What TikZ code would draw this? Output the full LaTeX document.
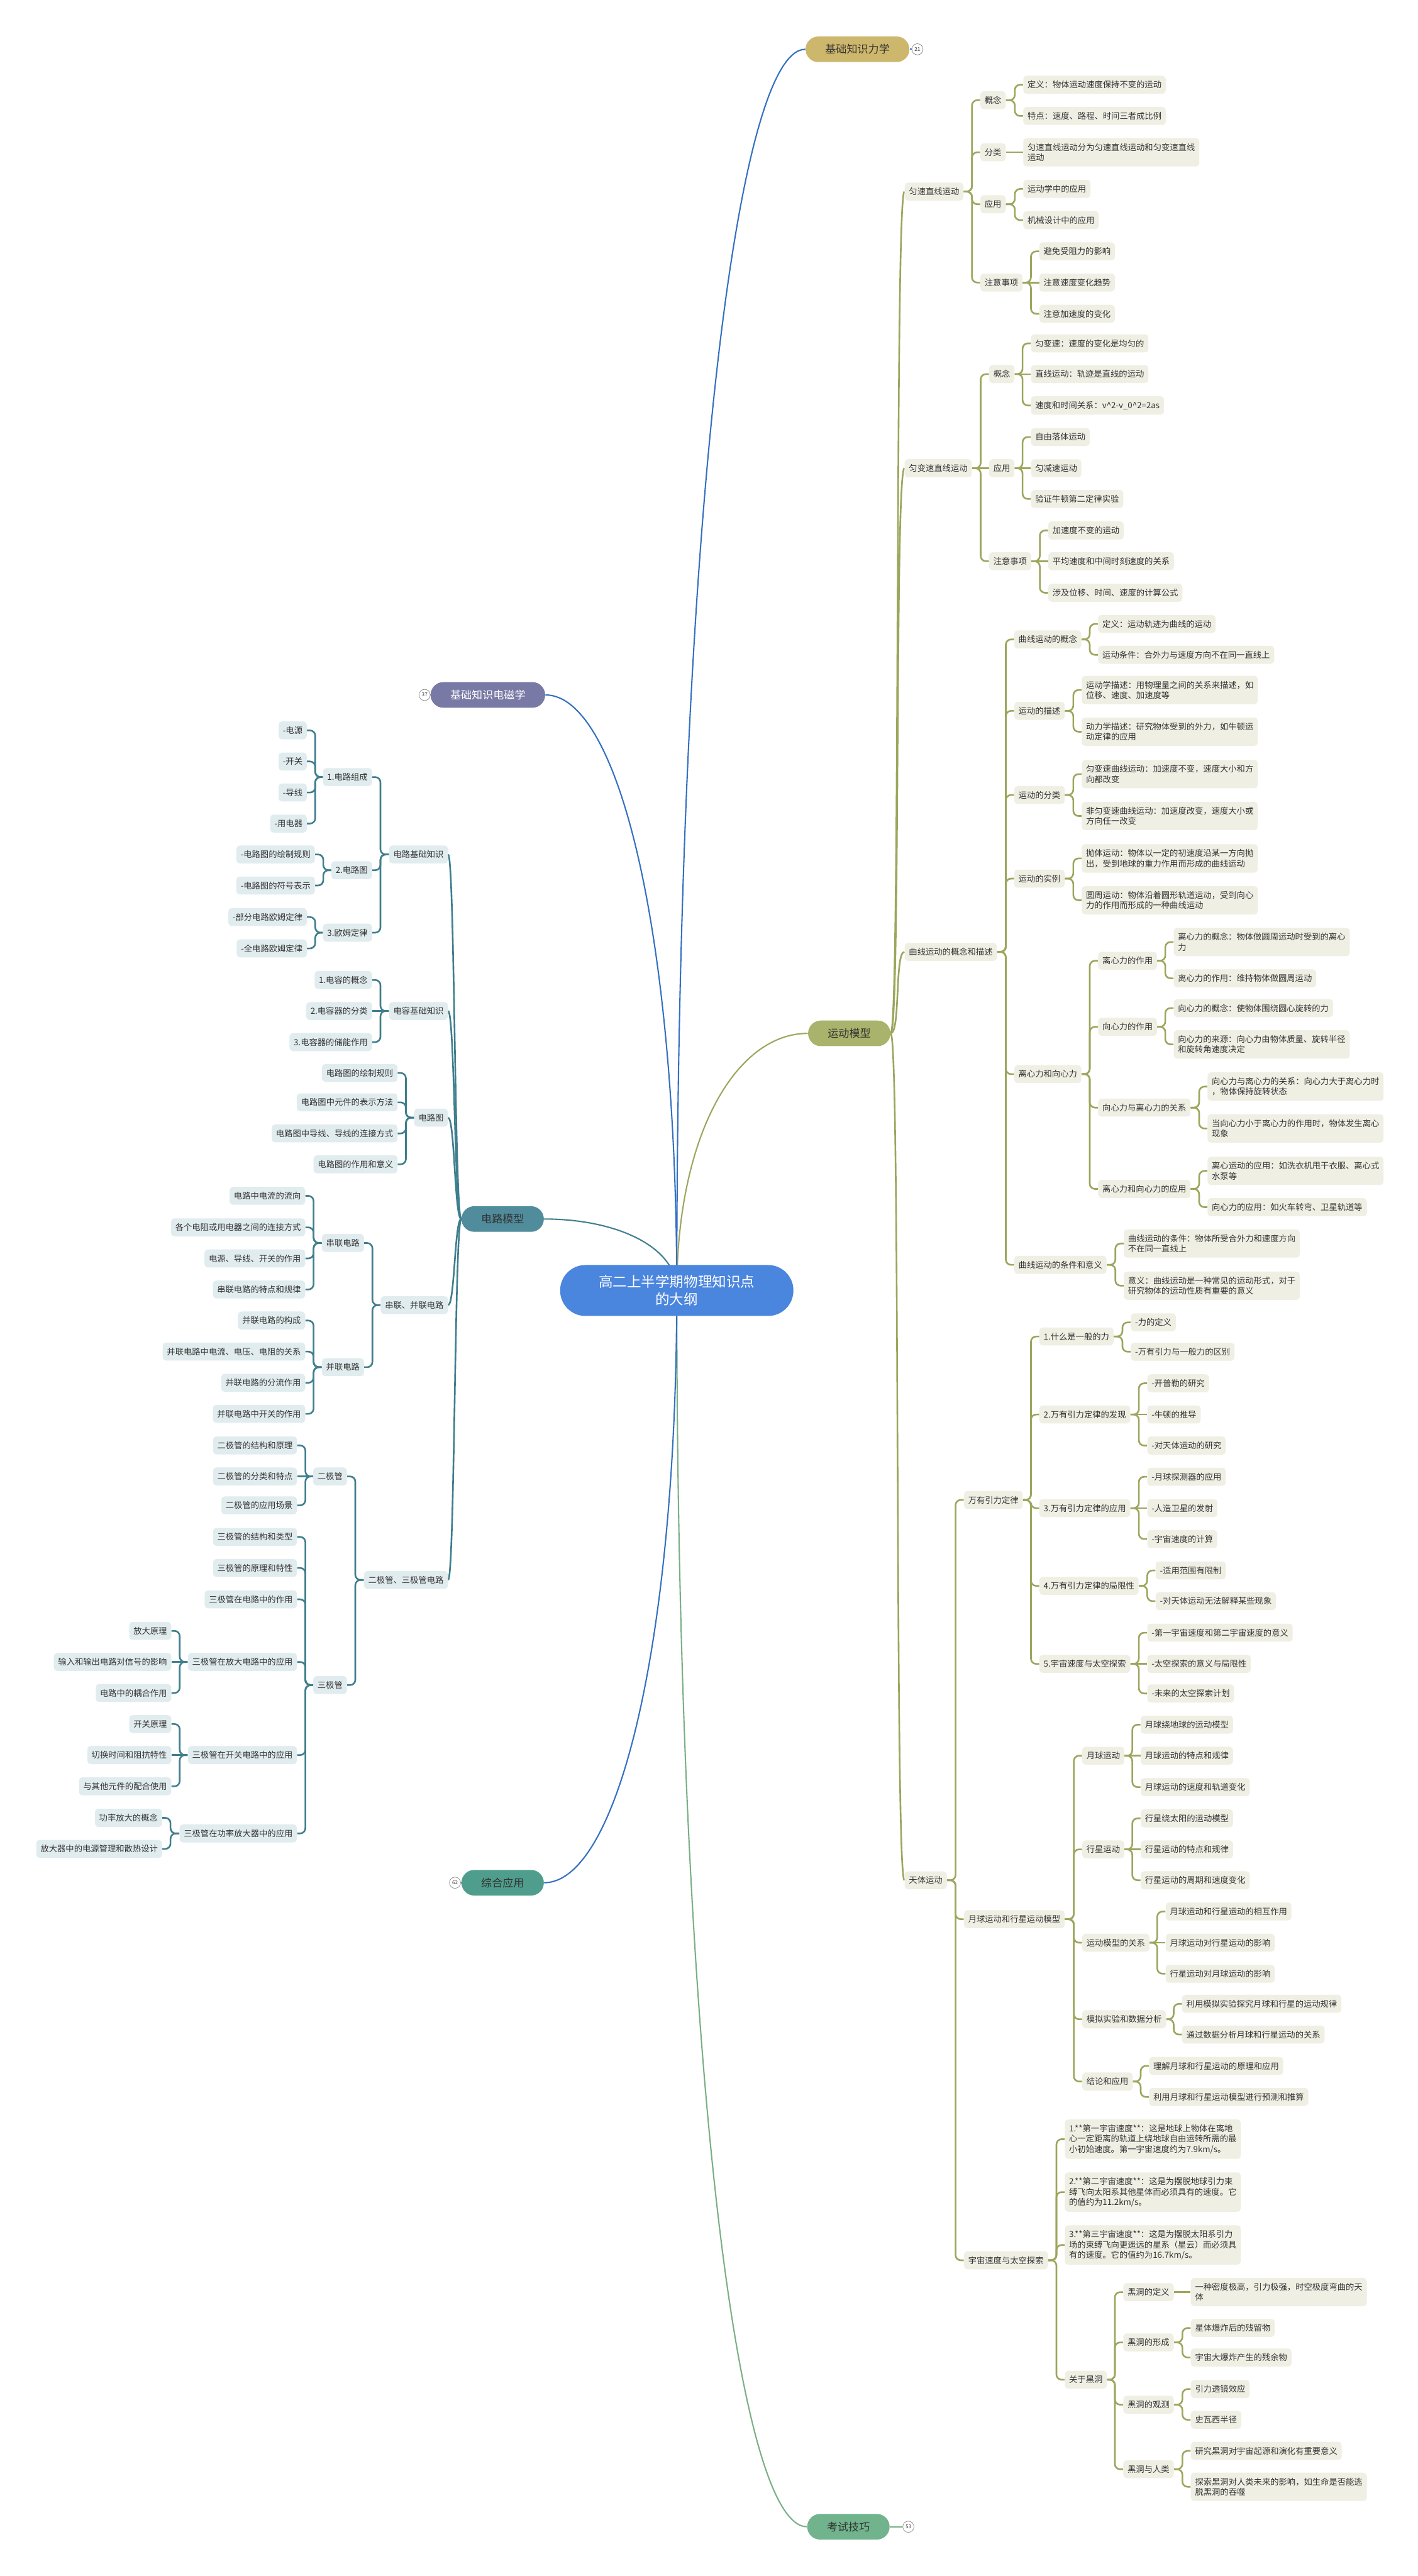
\documentclass[tikz,border=0pt]{standalone}
\usepackage{fontspec}
\setmainfont{Noto Sans CJK SC}
\usepackage{xcolor}
\usepackage{tikz}
\usetikzlibrary{backgrounds}
\definecolor{tinta}{HTML}{333333}
\definecolor{azulraiz}{HTML}{4A85DE}
\definecolor{azullinea}{HTML}{3470C2}
\definecolor{oro}{HTML}{CDB76C}
\definecolor{oliva}{HTML}{A9B36B}
\definecolor{olivalinea}{HTML}{9CA65C}
\definecolor{olivaclaro}{HTML}{EFEFE4}
\definecolor{verde}{HTML}{70B38C}
\definecolor{verdelinea}{HTML}{7AAF86}
\definecolor{morado}{HTML}{7979A5}
\definecolor{petroleo}{HTML}{508C9B}
\definecolor{petroleolinea}{HTML}{3F7E8D}
\definecolor{petroleoclaro}{HTML}{E1ECEF}
\definecolor{menta}{HTML}{4F9E8D}
\definecolor{gris}{HTML}{8A8A8A}
\tikzset{
  raiz/.style={fill=azulraiz,text=white,rounded corners=7.7mm,minimum width=71mm,minimum height=15.5mm,align=center,font=\fontsize{12.3}{15.5}\selectfont},
  tema/.style={rounded corners=3.9mm,minimum height=7.8mm,inner xsep=6mm,text=tinta,font=\fontsize{9.3}{11}\selectfont},
  caja/.style={rounded corners=1mm,minimum height=5.35mm,inner xsep=1.3mm,inner ysep=1.55mm,align=left,text=tinta,font=\fontsize{7.25}{8.9}\selectfont},
  cajader/.style={caja,fill=olivaclaro,anchor=west},
  cajaizq/.style={caja,fill=petroleoclaro,anchor=east},
  plegado/.style={circle,draw=gris,fill=white,inner sep=0pt,minimum size=3.4mm,text=tinta,font=\fontsize{4.5}{5}\selectfont},
  curva/.style={line width=0.4mm},
  ramader/.style={draw=olivalinea,line width=0.5mm,rounded corners=1.6mm},
  ramaizq/.style={draw=petroleolinea,line width=0.5mm,rounded corners=1.6mm},
}
\begin{document}
\begin{tikzpicture}[x=0.5mm,y=-0.5mm]
  \useasboundingbox (0,0) rectangle (863,1568);
  % centro y ramas principales
  \node[raiz] (raiz) at (412,785.5) {高二上半学期物理知识点\\的大纲};
  \node[tema,fill=oro] (lixue) at (522,30) {基础知识力学};
  \node[plegado] (pl21) at (558.5,30) {21};
  \node[tema,fill=oliva] (yundong) at (517,629) {运动模型};
  \node[tema,fill=verde] (kaoshi) at (516.5,1538) {考试技巧};
  \node[plegado] (pl53) at (553,1538) {53};
  \node[tema,fill=morado,text=white] (dianci) at (297,423) {基础知识电磁学};
  \node[plegado] (pl37) at (258.5,423) {37};
  \node[tema,fill=petroleo] (dianlu) at (306,742) {电路模型};
  \node[tema,fill=menta] (zonghe) at (306,1146) {综合应用};
  \node[plegado] (pl62) at (277,1146) {62};

  % 运动模型
  \node[cajader] (ys1) at (550.6,116.6) {匀速直线运动};
  \node[cajader] (ys2) at (550.6,285) {匀变速直线运动};
  \node[cajader] (qx) at (550.6,579.4) {曲线运动的概念和描述};
  \node[cajader] (tt) at (550.6,1144.5) {天体运动};

  \node[cajader] (ys1a) at (596.7,61) {概念};
  \node[cajader] (ys1b) at (596.7,92.7) {分类};
  \node[cajader] (ys1c) at (596.7,124.3) {应用};
  \node[cajader] (ys1d) at (596.7,172) {注意事项};
  \node[cajader] (ys1a1) at (622.8,51.6) {定义：物体运动速度保持不变的运动};
  \node[cajader] (ys1a2) at (622.8,70.6) {特点：速度、路程、时间三者成比例};
  \node[cajader] (ys1b1) at (622.8,92.7) {匀速直线运动分为匀速直线运动和匀变速直线\\运动};
  \node[cajader] (ys1c1) at (622.8,115) {运动学中的应用};
  \node[cajader] (ys1c2) at (622.8,134) {机械设计中的应用};
  \node[cajader] (ys1d1) at (632.6,153) {避免受阻力的影响};
  \node[cajader] (ys1d2) at (632.6,172) {注意速度变化趋势};
  \node[cajader] (ys1d3) at (632.6,191) {注意加速度的变化};

  \node[cajader] (ys2a) at (602,227.7) {概念};
  \node[cajader] (ys2b) at (602,285) {应用};
  \node[cajader] (ys2c) at (602,341.6) {注意事项};
  \node[cajader] (ys2a1) at (627.5,209) {匀变速：速度的变化是均匀的};
  \node[cajader] (ys2a2) at (627.5,227.7) {直线运动：轨迹是直线的运动};
  \node[cajader] (ys2a3) at (627.5,246.8) {速度和时间关系：v\textasciicircum 2-v\_0\textasciicircum 2=2as};
  \node[cajader] (ys2b1) at (627.5,266) {自由落体运动};
  \node[cajader] (ys2b2) at (627.5,285) {匀减速运动};
  \node[cajader] (ys2b3) at (627.5,303.7) {验证牛顿第二定律实验};
  \node[cajader] (ys2c1) at (638,322.9) {加速度不变的运动};
  \node[cajader] (ys2c2) at (638,341.6) {平均速度和中间时刻速度的关系};
  \node[cajader] (ys2c3) at (638,360.8) {涉及位移、时间、速度的计算公式};

  \node[cajader] (qx1) at (617.3,389.2) {曲线运动的概念};
  \node[cajader] (qx2) at (617.3,432.7) {运动的描述};
  \node[cajader] (qx3) at (617.3,483.9) {运动的分类};
  \node[cajader] (qx4) at (617.3,534.8) {运动的实例};
  \node[cajader] (qx5) at (617.3,653.8) {离心力和向心力};
  \node[cajader] (qx6) at (617.3,769.9) {曲线运动的条件和意义};
  \node[cajader] (qx1a) at (668.4,379.8) {定义：运动轨迹为曲线的运动};
  \node[cajader] (qx1b) at (668.4,398.6) {运动条件：合外力与速度方向不在同一直线上};
  \node[cajader] (qx2a) at (658.4,420) {运动学描述：用物理量之间的关系来描述，如\\位移、速度、加速度等};
  \node[cajader] (qx2b) at (658.4,445.4) {动力学描述：研究物体受到的外力，如牛顿运\\动定律的应用};
  \node[cajader] (qx3a) at (658.4,471.2) {匀变速曲线运动：加速度不变，速度大小和方\\向都改变};
  \node[cajader] (qx3b) at (658.4,496.7) {非匀变速曲线运动：加速度改变，速度大小或\\方向任一改变};
  \node[cajader] (qx4a) at (658.4,522.5) {抛体运动：物体以一定的初速度沿某一方向抛\\出，受到地球的重力作用而形成的曲线运动};
  \node[cajader] (qx4b) at (658.4,548) {圆周运动：物体沿着圆形轨道运动，受到向心\\力的作用而形成的一种曲线运动};
  \node[cajader] (qx5a) at (668.4,584.8) {离心力的作用};
  \node[cajader] (qx5b) at (668.4,625) {向心力的作用};
  \node[cajader] (qx5c) at (668.4,674.2) {向心力与离心力的关系};
  \node[cajader] (qx5d) at (668.4,723.7) {离心力和向心力的应用};
  \node[cajader] (qx5a1) at (714.4,573.4) {离心力的概念：物体做圆周运动时受到的离心\\力};
  \node[cajader] (qx5a2) at (714.4,595.5) {离心力的作用：维持物体做圆周运动};
  \node[cajader] (qx5b1) at (714.4,613.6) {向心力的概念：使物体围绕圆心旋转的力};
  \node[cajader] (qx5b2) at (714.4,635.7) {向心力的来源：向心力由物体质量、旋转半径\\和旋转角速度决定};
  \node[cajader] (qx5c1) at (735,661.4) {向心力与离心力的关系：向心力大于离心力时\\，物体保持旋转状态};
  \node[cajader] (qx5c2) at (735,686.9) {当向心力小于离心力的作用时，物体发生离心\\现象};
  \node[cajader] (qx5d1) at (735,712.7) {离心运动的应用：如洗衣机甩干衣服、离心式\\水泵等};
  \node[cajader] (qx5d2) at (735,734.8) {向心力的应用：如火车转弯、卫星轨道等};
  \node[cajader] (qx6a) at (684,756.9) {曲线运动的条件：物体所受合外力和速度方向\\不在同一直线上};
  \node[cajader] (qx6b) at (684,782.6) {意义：曲线运动是一种常见的运动形式，对于\\研究物体的运动性质有重要的意义};

  \node[cajader] (tt1) at (586.7,913) {万有引力定律};
  \node[cajader] (tt2) at (586.7,1168.2) {月球运动和行星运动模型};
  \node[cajader] (tt3) at (586.7,1375.8) {宇宙速度与太空探索};
  \node[cajader] (wy1) at (632.6,813.5) {1.什么是一般的力};
  \node[cajader] (wy2) at (632.6,861) {2.万有引力定律的发现};
  \node[cajader] (wy3) at (632.6,918) {3.万有引力定律的应用};
  \node[cajader] (wy4) at (632.6,965.3) {4.万有引力定律的局限性};
  \node[cajader] (wy5) at (632.6,1012.8) {5.宇宙速度与太空探索};
  \node[cajader] (wy1a) at (688.3,804.9) {-力的定义};
  \node[cajader] (wy1b) at (688.3,822.8) {-万有引力与一般力的区别};
  \node[cajader] (wy2a) at (698.3,842) {-开普勒的研究};
  \node[cajader] (wy2b) at (698.3,861) {-牛顿的推导};
  \node[cajader] (wy2c) at (698.3,879.9) {-对天体运动的研究};
  \node[cajader] (wy3a) at (698.3,898.9) {-月球探测器的应用};
  \node[cajader] (wy3b) at (698.3,918) {-人造卫星的发射};
  \node[cajader] (wy3c) at (698.3,936.8) {-宇宙速度的计算};
  \node[cajader] (wy4a) at (703.4,955.9) {-适用范围有限制};
  \node[cajader] (wy4b) at (703.4,974.6) {-对天体运动无法解释某些现象};
  \node[cajader] (wy5a) at (698.3,993.8) {-第一宇宙速度和第二宇宙速度的意义};
  \node[cajader] (wy5b) at (698.3,1012.8) {-太空探索的意义与局限性};
  \node[cajader] (wy5c) at (698.3,1030.8) {-未来的太空探索计划};

  \node[cajader] (yq1) at (658.7,1068.7) {月球运动};
  \node[cajader] (yq2) at (658.7,1125.7) {行星运动};
  \node[cajader] (yq3) at (658.7,1182.5) {运动模型的关系};
  \node[cajader] (yq4) at (658.7,1229.1) {模拟实验和数据分析};
  \node[cajader] (yq5) at (658.7,1267) {结论和应用};
  \node[cajader] (yq1a) at (694.3,1049.8) {月球绕地球的运动模型};
  \node[cajader] (yq1b) at (694.3,1068.7) {月球运动的特点和规律};
  \node[cajader] (yq1c) at (694.3,1087.8) {月球运动的速度和轨道变化};
  \node[cajader] (yq2a) at (694.3,1106.8) {行星绕太阳的运动模型};
  \node[cajader] (yq2b) at (694.3,1125.7) {行星运动的特点和规律};
  \node[cajader] (yq2c) at (694.3,1144.5) {行星运动的周期和速度变化};
  \node[cajader] (yq3a) at (709.5,1163.5) {月球运动和行星运动的相互作用};
  \node[cajader] (yq3b) at (709.5,1182.5) {月球运动对行星运动的影响};
  \node[cajader] (yq3c) at (709.5,1201.4) {行星运动对月球运动的影响};
  \node[cajader] (yq4a) at (719.5,1219.7) {利用模拟实验探究月球和行星的运动规律};
  \node[cajader] (yq4b) at (719.5,1238.4) {通过数据分析月球和行星运动的关系};
  \node[cajader] (yq5a) at (699.4,1257.5) {理解月球和行星运动的原理和应用};
  \node[cajader] (yq5b) at (699.4,1276.4) {利用月球和行星运动模型进行预测和推算};

  \node[cajader] (ss1) at (648.1,1302.1) {1.**第一宇宙速度**：这是地球上物体在离地\\心一定距离的轨道上绕地球自由运转所需的最\\小初始速度。第一宇宙速度约为7.9km/s。};
  \node[cajader] (ss2) at (648.1,1334.3) {2.**第二宇宙速度**：这是为摆脱地球引力束\\缚飞向太阳系其他星体而必须具有的速度。它\\的值约为11.2km/s。};
  \node[cajader] (ss3) at (648.1,1366.5) {3.**第三宇宙速度**：这是为摆脱太阳系引力\\场的束缚飞向更遥远的星系（星云）而必须具\\有的速度。它的值约为16.7km/s。};
  \node[cajader] (hd) at (648.1,1448.5) {关于黑洞};
  \node[cajader] (hd1) at (683.7,1395.2) {黑洞的定义};
  \node[cajader] (hd2) at (683.7,1425.8) {黑洞的形成};
  \node[cajader] (hd3) at (683.7,1463.7) {黑洞的观测};
  \node[cajader] (hd4) at (683.7,1503) {黑洞与人类};
  \node[cajader] (hd1a) at (724.8,1395.2) {一种密度极高，引力极强，时空极度弯曲的天\\体};
  \node[cajader] (hd2a) at (724.8,1417) {星体爆炸后的残留物};
  \node[cajader] (hd2b) at (724.8,1435) {宇宙大爆炸产生的残余物};
  \node[cajader] (hd3a) at (724.8,1454.2) {引力透镜效应};
  \node[cajader] (hd3b) at (724.8,1472.9) {史瓦西半径};
  \node[cajader] (hd4a) at (724.8,1491.8) {研究黑洞对宇宙起源和演化有重要意义};
  \node[cajader] (hd4b) at (724.8,1513.7) {探索黑洞对人类未来的影响，如生命是否能逃\\脱黑洞的吞噬};

  % 电路模型
  \node[cajaizq] (dj) at (272.8,520.1) {电路基础知识};
  \node[cajaizq] (dr) at (272.8,615.4) {电容基础知识};
  \node[cajaizq] (dt) at (272.8,680.3) {电路图};
  \node[cajaizq] (cb) at (272.8,794.4) {串联、并联电路};
  \node[cajaizq] (eg) at (272.8,961.7) {二极管、三极管电路};

  \node[cajaizq] (dj1) at (226.6,473) {1.电路组成};
  \node[cajaizq] (dj2) at (226.6,529.7) {2.电路图};
  \node[cajaizq] (dj3) at (226.6,567.7) {3.欧姆定律};
  \node[cajaizq] (dj1a) at (186.9,444.6) {-电源};
  \node[cajaizq] (dj1b) at (186.9,463.5) {-开关};
  \node[cajaizq] (dj1c) at (186.9,482.4) {-导线};
  \node[cajaizq] (dj1d) at (186.9,501.3) {-用电器};
  \node[cajaizq] (dj2a) at (191.8,520.1) {-电路图的绘制规则};
  \node[cajaizq] (dj2b) at (191.8,539) {-电路图的符号表示};
  \node[cajaizq] (dj3a) at (186.9,558.2) {-部分电路欧姆定律};
  \node[cajaizq] (dj3b) at (186.9,577.3) {-全电路欧姆定律};

  \node[cajaizq] (dr1) at (226.6,596.5) {1.电容的概念};
  \node[cajaizq] (dr2) at (226.6,615.4) {2.电容器的分类};
  \node[cajaizq] (dr3) at (226.6,634.3) {3.电容器的储能作用};

  \node[cajaizq] (dt1) at (242.1,653.1) {电路图的绘制规则};
  \node[cajaizq] (dt2) at (242.1,671) {电路图中元件的表示方法};
  \node[cajaizq] (dt3) at (242.1,689.9) {电路图中导线、导线的连接方式};
  \node[cajaizq] (dt4) at (242.1,708.7) {电路图的作用和意义};

  \node[cajaizq] (cb1) at (221.7,756.6) {串联电路};
  \node[cajaizq] (cb2) at (221.7,832.2) {并联电路};
  \node[cajaizq] (cb1a) at (185.9,727.9) {电路中电流的流向};
  \node[cajaizq] (cb1b) at (185.9,747.1) {各个电阻或用电器之间的连接方式};
  \node[cajaizq] (cb1c) at (185.9,766) {电源、导线、开关的作用};
  \node[cajaizq] (cb1d) at (185.9,784.9) {串联电路的特点和规律};
  \node[cajaizq] (cb2a) at (185.9,803.8) {并联电路的构成};
  \node[cajaizq] (cb2b) at (185.9,822.7) {并联电路中电流、电压、电阻的关系};
  \node[cajaizq] (cb2c) at (185.9,841.7) {并联电路的分流作用};
  \node[cajaizq] (cb2d) at (185.9,860.6) {并联电路中开关的作用};

  \node[cajaizq] (eg1) at (211.3,898.7) {二极管};
  \node[cajaizq] (eg2) at (211.3,1025.7) {三极管};
  \node[cajaizq] (eg1a) at (180.9,879.8) {二极管的结构和原理};
  \node[cajaizq] (eg1b) at (180.9,898.7) {二极管的分类和特点};
  \node[cajaizq] (eg1c) at (180.9,916.3) {二极管的应用场景};
  \node[cajaizq] (eg2a) at (180.9,935.5) {三极管的结构和类型};
  \node[cajaizq] (eg2b) at (180.9,954.4) {三极管的原理和特性};
  \node[cajaizq] (eg2c) at (180.9,973.5) {三极管在电路中的作用};
  \node[cajaizq] (eg2d) at (180.9,1011.6) {三极管在放大电路中的应用};
  \node[cajaizq] (eg2e) at (180.9,1068.3) {三极管在开关电路中的应用};
  \node[cajaizq] (eg2f) at (180.9,1116) {三极管在功率放大器中的应用};
  \node[cajaizq] (eg2d1) at (104.4,992.7) {放大原理};
  \node[cajaizq] (eg2d2) at (104.4,1011.6) {输入和输出电路对信号的影响};
  \node[cajaizq] (eg2d3) at (104.4,1030.5) {电路中的耦合作用};
  \node[cajaizq] (eg2e1) at (104.4,1049.4) {开关原理};
  \node[cajaizq] (eg2e2) at (104.4,1068.3) {切换时间和阻抗特性};
  \node[cajaizq] (eg2e3) at (104.4,1087.3) {与其他元件的配合使用};
  \node[cajaizq] (eg2f1) at (98.8,1106.5) {功率放大的概念};
  \node[cajaizq] (eg2f2) at (98.8,1125.4) {放大器中的电源管理和散热设计};

  \begin{scope}[on background layer]
    \fill[white] (0,0) rectangle (863,1568);
    % curvas desde el centro
    \draw[curva,azullinea] (raiz.center) .. controls +(0,-453.6) and +(-42.9,0) .. (lixue.west);
    \draw[curva,olivalinea] (raiz.center) .. controls +(0,-94.2) and +(-44,0) .. (yundong.west);
    \draw[curva,verdelinea] (raiz.center) .. controls +(0,451.2) and +(-44,0) .. (kaoshi.west);
    \draw[curva,azullinea] (raiz.center) .. controls +(0,-217.8) and +(44.5,0) .. (dianci.east);
    \draw[curva,petroleolinea] (raiz.center) .. controls +(0,-26.4) and +(44.5,0) .. (dianlu.east);
    \draw[curva,azullinea] (raiz.center) .. controls +(0,216) and +(44.5,0) .. (zonghe.east);
    \draw[curva,azullinea] (lixue.east) -- (pl21); \draw[curva,verdelinea] (kaoshi.east) -- (pl53);
    \draw[curva,gris] (dianci.west) -- (pl37); \draw[curva,azullinea] (zonghe.west) -- (pl62);

    % 运动模型
    \draw[ramader] (yundong.east) .. controls +(6,0) and +(-6,0) .. (ys1.west);
    \draw[ramader] (yundong.east) .. controls +(6,0) and +(-6,0) .. (ys2.west);
    \draw[ramader] (yundong.east) .. controls +(6,0) and +(-6,0) .. (qx.west);
    \draw[ramader] (yundong.east) .. controls +(6,0) and +(-6,0) .. (tt.west);

    \draw[ramader] (ys1a.west) -- ++(-5,0) |- (ys1.east); \draw[ramader] (ys1b.west) -- ++(-5,0) |- (ys1.east);
    \draw[ramader] (ys1c.west) -- ++(-5,0) |- (ys1.east); \draw[ramader] (ys1d.west) -- ++(-5,0) |- (ys1.east);
    \draw[ramader] (ys1a1.west) -- ++(-5,0) |- (ys1a.east); \draw[ramader] (ys1a2.west) -- ++(-5,0) |- (ys1a.east);
    \draw[ramader] (ys1b1.west) -- (ys1b.east);
    \draw[ramader] (ys1c1.west) -- ++(-5,0) |- (ys1c.east); \draw[ramader] (ys1c2.west) -- ++(-5,0) |- (ys1c.east);
    \draw[ramader] (ys1d1.west) -- ++(-5,0) |- (ys1d.east); \draw[ramader] (ys1d2.west) -- (ys1d.east);
    \draw[ramader] (ys1d3.west) -- ++(-5,0) |- (ys1d.east);

    \draw[ramader] (ys2a.west) -- ++(-5,0) |- (ys2.east); \draw[ramader] (ys2b.west) -- (ys2.east);
    \draw[ramader] (ys2c.west) -- ++(-5,0) |- (ys2.east);
    \draw[ramader] (ys2a1.west) -- ++(-5,0) |- (ys2a.east); \draw[ramader] (ys2a2.west) -- (ys2a.east);
    \draw[ramader] (ys2a3.west) -- ++(-5,0) |- (ys2a.east);
    \draw[ramader] (ys2b1.west) -- ++(-5,0) |- (ys2b.east); \draw[ramader] (ys2b2.west) -- (ys2b.east);
    \draw[ramader] (ys2b3.west) -- ++(-5,0) |- (ys2b.east);
    \draw[ramader] (ys2c1.west) -- ++(-5,0) |- (ys2c.east); \draw[ramader] (ys2c2.west) -- (ys2c.east);
    \draw[ramader] (ys2c3.west) -- ++(-5,0) |- (ys2c.east);

    \draw[ramader] (qx1.west) -- ++(-5,0) |- (qx.east); \draw[ramader] (qx2.west) -- ++(-5,0) |- (qx.east);
    \draw[ramader] (qx3.west) -- ++(-5,0) |- (qx.east); \draw[ramader] (qx4.west) -- ++(-5,0) |- (qx.east);
    \draw[ramader] (qx5.west) -- ++(-5,0) |- (qx.east); \draw[ramader] (qx6.west) -- ++(-5,0) |- (qx.east);
    \draw[ramader] (qx1a.west) -- ++(-5,0) |- (qx1.east); \draw[ramader] (qx1b.west) -- ++(-5,0) |- (qx1.east);
    \draw[ramader] (qx2a.west) -- ++(-5,0) |- (qx2.east); \draw[ramader] (qx2b.west) -- ++(-5,0) |- (qx2.east);
    \draw[ramader] (qx3a.west) -- ++(-5,0) |- (qx3.east); \draw[ramader] (qx3b.west) -- ++(-5,0) |- (qx3.east);
    \draw[ramader] (qx4a.west) -- ++(-5,0) |- (qx4.east); \draw[ramader] (qx4b.west) -- ++(-5,0) |- (qx4.east);
    \draw[ramader] (qx5a.west) -- ++(-5,0) |- (qx5.east); \draw[ramader] (qx5b.west) -- ++(-5,0) |- (qx5.east);
    \draw[ramader] (qx5c.west) -- ++(-5,0) |- (qx5.east); \draw[ramader] (qx5d.west) -- ++(-5,0) |- (qx5.east);
    \draw[ramader] (qx5a1.west) -- ++(-5,0) |- (qx5a.east); \draw[ramader] (qx5a2.west) -- ++(-5,0) |- (qx5a.east);
    \draw[ramader] (qx5b1.west) -- ++(-5,0) |- (qx5b.east); \draw[ramader] (qx5b2.west) -- ++(-5,0) |- (qx5b.east);
    \draw[ramader] (qx5c1.west) -- ++(-5,0) |- (qx5c.east); \draw[ramader] (qx5c2.west) -- ++(-5,0) |- (qx5c.east);
    \draw[ramader] (qx5d1.west) -- ++(-5,0) |- (qx5d.east); \draw[ramader] (qx5d2.west) -- ++(-5,0) |- (qx5d.east);
    \draw[ramader] (qx6a.west) -- ++(-5,0) |- (qx6.east); \draw[ramader] (qx6b.west) -- ++(-5,0) |- (qx6.east);

    \draw[ramader] (tt1.west) -- ++(-5,0) |- (tt.east); \draw[ramader] (tt2.west) -- ++(-5,0) |- (tt.east);
    \draw[ramader] (tt3.west) -- ++(-5,0) |- (tt.east);
    \draw[ramader] (wy1.west) -- ++(-5,0) |- (tt1.east); \draw[ramader] (wy2.west) -- ++(-5,0) |- (tt1.east);
    \draw[ramader] (wy3.west) -- ++(-5,0) |- (tt1.east); \draw[ramader] (wy4.west) -- ++(-5,0) |- (tt1.east);
    \draw[ramader] (wy5.west) -- ++(-5,0) |- (tt1.east);
    \draw[ramader] (wy1a.west) -- ++(-5,0) |- (wy1.east); \draw[ramader] (wy1b.west) -- ++(-5,0) |- (wy1.east);
    \draw[ramader] (wy2a.west) -- ++(-5,0) |- (wy2.east); \draw[ramader] (wy2b.west) -- (wy2.east);
    \draw[ramader] (wy2c.west) -- ++(-5,0) |- (wy2.east);
    \draw[ramader] (wy3a.west) -- ++(-5,0) |- (wy3.east); \draw[ramader] (wy3b.west) -- (wy3.east);
    \draw[ramader] (wy3c.west) -- ++(-5,0) |- (wy3.east);
    \draw[ramader] (wy4a.west) -- ++(-5,0) |- (wy4.east); \draw[ramader] (wy4b.west) -- ++(-5,0) |- (wy4.east);
    \draw[ramader] (wy5a.west) -- ++(-5,0) |- (wy5.east); \draw[ramader] (wy5b.west) -- (wy5.east);
    \draw[ramader] (wy5c.west) -- ++(-5,0) |- (wy5.east);

    \draw[ramader] (yq1.west) -- ++(-5,0) |- (tt2.east); \draw[ramader] (yq2.west) -- ++(-5,0) |- (tt2.east);
    \draw[ramader] (yq3.west) -- ++(-5,0) |- (tt2.east); \draw[ramader] (yq4.west) -- ++(-5,0) |- (tt2.east);
    \draw[ramader] (yq5.west) -- ++(-5,0) |- (tt2.east);
    \draw[ramader] (yq1a.west) -- ++(-5,0) |- (yq1.east); \draw[ramader] (yq1b.west) -- (yq1.east);
    \draw[ramader] (yq1c.west) -- ++(-5,0) |- (yq1.east);
    \draw[ramader] (yq2a.west) -- ++(-5,0) |- (yq2.east); \draw[ramader] (yq2b.west) -- (yq2.east);
    \draw[ramader] (yq2c.west) -- ++(-5,0) |- (yq2.east);
    \draw[ramader] (yq3a.west) -- ++(-5,0) |- (yq3.east); \draw[ramader] (yq3b.west) -- (yq3.east);
    \draw[ramader] (yq3c.west) -- ++(-5,0) |- (yq3.east);
    \draw[ramader] (yq4a.west) -- ++(-5,0) |- (yq4.east); \draw[ramader] (yq4b.west) -- ++(-5,0) |- (yq4.east);
    \draw[ramader] (yq5a.west) -- ++(-5,0) |- (yq5.east); \draw[ramader] (yq5b.west) -- ++(-5,0) |- (yq5.east);

    \draw[ramader] (ss1.west) -- ++(-5,0) |- (tt3.east); \draw[ramader] (ss2.west) -- ++(-5,0) |- (tt3.east);
    \draw[ramader] (ss3.west) -- ++(-5,0) |- (tt3.east); \draw[ramader] (hd.west) -- ++(-5,0) |- (tt3.east);
    \draw[ramader] (hd1.west) -- ++(-5,0) |- (hd.east); \draw[ramader] (hd2.west) -- ++(-5,0) |- (hd.east);
    \draw[ramader] (hd3.west) -- ++(-5,0) |- (hd.east); \draw[ramader] (hd4.west) -- ++(-5,0) |- (hd.east);
    \draw[ramader] (hd1a.west) -- (hd1.east);
    \draw[ramader] (hd2a.west) -- ++(-5,0) |- (hd2.east); \draw[ramader] (hd2b.west) -- ++(-5,0) |- (hd2.east);
    \draw[ramader] (hd3a.west) -- ++(-5,0) |- (hd3.east); \draw[ramader] (hd3b.west) -- ++(-5,0) |- (hd3.east);
    \draw[ramader] (hd4a.west) -- ++(-5,0) |- (hd4.east); \draw[ramader] (hd4b.west) -- ++(-5,0) |- (hd4.east);

    % 电路模型
    \draw[ramaizq] (dj.east) .. controls +(4,0) and +(-4,0) .. (dianlu.west);
    \draw[ramaizq] (dr.east) .. controls +(4,0) and +(-4,0) .. (dianlu.west);
    \draw[ramaizq] (dt.east) .. controls +(4,0) and +(-4,0) .. (dianlu.west);
    \draw[ramaizq] (cb.east) .. controls +(4,0) and +(-4,0) .. (dianlu.west);
    \draw[ramaizq] (eg.east) .. controls +(4,0) and +(-4,0) .. (dianlu.west);

    \draw[ramaizq] (dj1.east) -- ++(5,0) |- (dj.west); \draw[ramaizq] (dj2.east) -- ++(5,0) |- (dj.west);
    \draw[ramaizq] (dj3.east) -- ++(5,0) |- (dj.west);
    \draw[ramaizq] (dj1a.east) -- ++(5,0) |- (dj1.west); \draw[ramaizq] (dj1b.east) -- ++(5,0) |- (dj1.west);
    \draw[ramaizq] (dj1c.east) -- ++(5,0) |- (dj1.west); \draw[ramaizq] (dj1d.east) -- ++(5,0) |- (dj1.west);
    \draw[ramaizq] (dj2a.east) -- ++(5,0) |- (dj2.west); \draw[ramaizq] (dj2b.east) -- ++(5,0) |- (dj2.west);
    \draw[ramaizq] (dj3a.east) -- ++(5,0) |- (dj3.west); \draw[ramaizq] (dj3b.east) -- ++(5,0) |- (dj3.west);
    \draw[ramaizq] (dr1.east) -- ++(5,0) |- (dr.west); \draw[ramaizq] (dr2.east) -- (dr.west);
    \draw[ramaizq] (dr3.east) -- ++(5,0) |- (dr.west);
    \draw[ramaizq] (dt1.east) -- ++(5,0) |- (dt.west); \draw[ramaizq] (dt2.east) -- ++(5,0) |- (dt.west);
    \draw[ramaizq] (dt3.east) -- ++(5,0) |- (dt.west); \draw[ramaizq] (dt4.east) -- ++(5,0) |- (dt.west);
    \draw[ramaizq] (cb1.east) -- ++(5,0) |- (cb.west); \draw[ramaizq] (cb2.east) -- ++(5,0) |- (cb.west);
    \draw[ramaizq] (cb1a.east) -- ++(5,0) |- (cb1.west); \draw[ramaizq] (cb1b.east) -- ++(5,0) |- (cb1.west);
    \draw[ramaizq] (cb1c.east) -- ++(5,0) |- (cb1.west); \draw[ramaizq] (cb1d.east) -- ++(5,0) |- (cb1.west);
    \draw[ramaizq] (cb2a.east) -- ++(5,0) |- (cb2.west); \draw[ramaizq] (cb2b.east) -- ++(5,0) |- (cb2.west);
    \draw[ramaizq] (cb2c.east) -- ++(5,0) |- (cb2.west); \draw[ramaizq] (cb2d.east) -- ++(5,0) |- (cb2.west);
    \draw[ramaizq] (eg1.east) -- ++(5,0) |- (eg.west); \draw[ramaizq] (eg2.east) -- ++(5,0) |- (eg.west);
    \draw[ramaizq] (eg1a.east) -- ++(5,0) |- (eg1.west); \draw[ramaizq] (eg1b.east) -- (eg1.west);
    \draw[ramaizq] (eg1c.east) -- ++(5,0) |- (eg1.west);
    \draw[ramaizq] (eg2a.east) -- ++(5,0) |- (eg2.west); \draw[ramaizq] (eg2b.east) -- ++(5,0) |- (eg2.west);
    \draw[ramaizq] (eg2c.east) -- ++(5,0) |- (eg2.west); \draw[ramaizq] (eg2d.east) -- ++(5,0) |- (eg2.west);
    \draw[ramaizq] (eg2e.east) -- ++(5,0) |- (eg2.west); \draw[ramaizq] (eg2f.east) -- ++(5,0) |- (eg2.west);
    \draw[ramaizq] (eg2d1.east) -- ++(5,0) |- (eg2d.west); \draw[ramaizq] (eg2d2.east) -- (eg2d.west);
    \draw[ramaizq] (eg2d3.east) -- ++(5,0) |- (eg2d.west);
    \draw[ramaizq] (eg2e1.east) -- ++(5,0) |- (eg2e.west); \draw[ramaizq] (eg2e2.east) -- (eg2e.west);
    \draw[ramaizq] (eg2e3.east) -- ++(5,0) |- (eg2e.west);
    \draw[ramaizq] (eg2f1.east) -- ++(5,0) |- (eg2f.west); \draw[ramaizq] (eg2f2.east) -- ++(5,0) |- (eg2f.west);
  \end{scope}
\end{tikzpicture}
\end{document}
